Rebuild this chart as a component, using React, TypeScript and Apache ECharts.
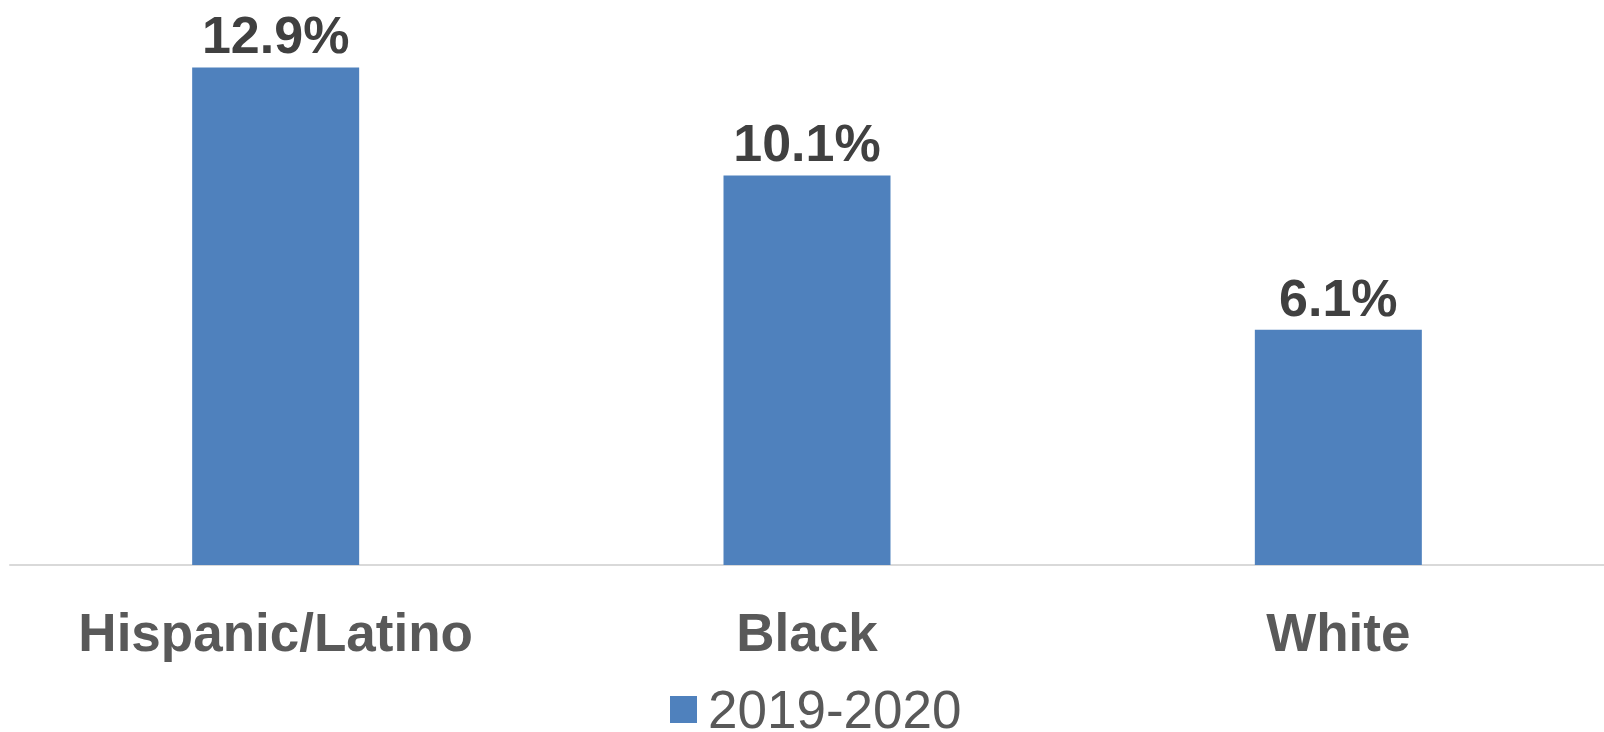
import React, { useEffect, useRef } from "react";
import * as echarts from "echarts";

const categories = ["Hispanic/Latino", "Black", "White"];
const seriesName = "2019-2020";
const values = [12.9, 10.1, 6.1];

const FONT = "'Liberation Sans', Arial, sans-serif";

export default function App() {
  const ref = useRef<HTMLDivElement>(null);
  useEffect(() => {
    if (!ref.current) return;
    const chart = echarts.init(ref.current, undefined, { renderer: "svg" });
    chart.setOption({
      animation: false,
      backgroundColor: "#ffffff",
      grid: { left: 10, top: 25, width: 1596, height: 540, containLabel: false },
      legend: {
        data: [seriesName],
        left: 670,
        top: 683,
        padding: 0,
        icon: "rect",
        itemWidth: 27,
        itemHeight: 27,
        textStyle: {
          fontFamily: FONT,
          fontSize: 53,
          lineHeight: 46,
          color: "#595959",
          padding: [0, 0, 0, 6],
        },
      },
      xAxis: {
        type: "category",
        data: categories,
        axisLine: { show: true, lineStyle: { color: "#d9d9d9", width: 2 } },
        axisTick: { show: false },
        axisLabel: {
          fontFamily: FONT,
          fontSize: 53,
          fontWeight: "bold",
          color: "#595959",
          margin: 41,
        },
      },
      yAxis: {
        type: "value",
        min: 0,
        max: 14,
        show: false,
        splitLine: { show: false },
      },
      series: [
        {
          name: seriesName,
          type: "bar",
          data: values,
          barWidth: 167,
          itemStyle: { color: "#4f81bd" },
          label: {
            show: true,
            position: "top",
            distance: 6,
            formatter: (p: any) => p.value.toFixed(1) + "%",
            fontFamily: FONT,
            fontSize: 52,
            fontWeight: "bold",
            color: "#404040",
          },
        },
      ],
    });
    return () => chart.dispose();
  }, []);
  return (
    <div
      ref={ref}
      style={{ position: "fixed", left: 0, top: 0, width: 1604, height: 732 }}
    />
  );
}
